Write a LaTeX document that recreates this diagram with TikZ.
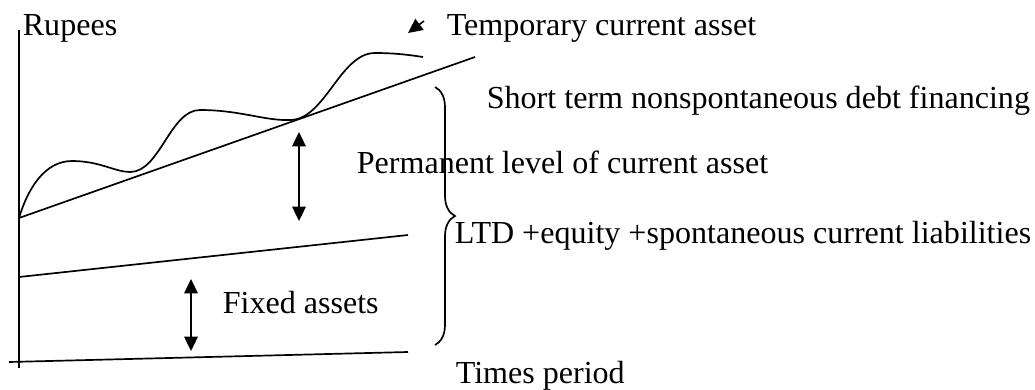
\documentclass[tikz,border=0pt]{standalone}
\usepackage{fontspec}
\setmainfont{Liberation Serif}
\usetikzlibrary{arrows.meta,decorations.pathreplacing}

\begin{document}
\begin{tikzpicture}[x=0.025cm,y=-0.025cm,line width=1.2pt]
  \tikzset{lbl/.style = {anchor=base west, inner sep=0pt, font=\fontsize{22.8}{27}\selectfont},
    >={Triangle[length=3.6mm,width=3.4mm]}}
  \useasboundingbox (0,0) rectangle (1035,389);
  % axes
  \coordinate (ytop) at (19,30);
  \coordinate (ybot) at (19,368);
  \coordinate (xl) at (9,362);
  \coordinate (xr) at (408,352);
  \draw (ybot) -- (ytop);
  \draw (xl) -- (xr);
  % levels
  \coordinate (fa0) at (19,277);
  \coordinate (fa1) at (408,235);
  \coordinate (pl0) at (19,218);
  \coordinate (pl1) at (475,57);
  \draw (fa0) -- (fa1);
  \draw (pl0) -- (pl1);
  \draw (pl0) .. controls (28,188) and (45,161) .. (72,161)
    .. controls (100,161) and (115,172) .. (130,172)
    .. controls (160,172) and (170,110) .. (200,110)
    .. controls (240,110) and (265,121) .. (290,120)
    .. controls (325,120) and (340,53) .. (375,53)
    .. controls (395,53) and (410,55) .. (423,57);
  % arrows
  \coordinate (a1) at (299,132);
  \coordinate (a2) at (299,221);
  \coordinate (b1) at (191,279);
  \coordinate (b2) at (191,351);
  \coordinate (t0) at (424,21);
  \coordinate (t1) at (408,33);
  \draw[<->] (a1) -- (a2);
  \draw[<->] (b1) -- (b2);
  \draw[-{Triangle[length=3.6mm,width=3.4mm]}] (t0) -- (t1);
  % brace
  \coordinate (br0) at (435,87);
  \coordinate (br1) at (435,345);
  \draw[decorate, decoration={brace, amplitude=0.5cm}] (br0) -- (br1);
  % texts
  \node[lbl] (rup) at (22,35) {Rupees};
  \node[lbl] (tca) at (446,35) {Temporary current asset};
  \node[lbl] (stn) at (486,108) {Short term nonspontaneous debt financing};
  \node[lbl] (plc) at (356,173) {Permanent level of current asset};
  \node[lbl] (ltd) at (454,243) {LTD +equity +spontaneous current liabilities};
  \node[lbl] (fix) at (222,313) {Fixed assets};
  \node[lbl] (tim) at (455,383) {Times period};
\end{tikzpicture}
\end{document}
